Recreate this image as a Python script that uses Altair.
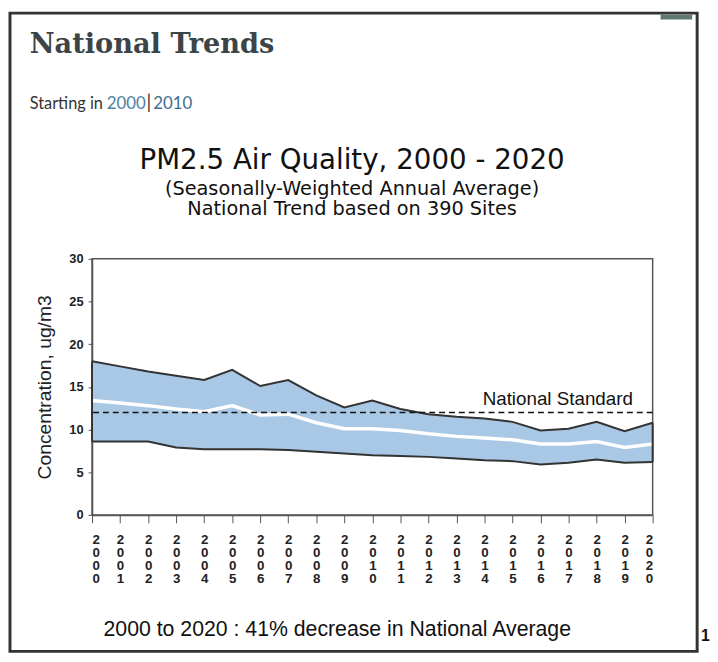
import altair as alt
import pandas as pd

# ---- data ----
years = list(range(2000, 2021))
upper_pct = [18.0, 17.4, 16.8, 16.3, 15.8, 17.0, 15.1, 15.8, 14.0, 12.6, 13.4,
             12.4, 11.8, 11.5, 11.3, 10.9, 9.9, 10.1, 10.9, 9.8, 10.8]
mean_conc = [13.4, 13.1, 12.8, 12.4, 12.1, 12.8, 11.7, 11.8, 10.8, 10.1, 10.1,
             9.9, 9.5, 9.2, 9.0, 8.8, 8.3, 8.3, 8.6, 7.9, 8.3]
lower_pct = [8.6, 8.6, 8.6, 7.9, 7.7, 7.7, 7.7, 7.6, 7.4, 7.2, 7.0,
             6.9, 6.8, 6.6, 6.4, 6.3, 5.9, 6.1, 6.5, 6.1, 6.2]
standard_value = [12]
y_ticks = [0, 5, 10, 15, 20, 25, 30]

header_text = "National Trends"
starting_text = "Starting in"
start_years = ["2000", "2010"]
title_text = "PM2.5 Air Quality, 2000 - 2020"
subtitle_lines = ["(Seasonally-Weighted Annual Average)",
                  "National Trend based on 390 Sites"]
y_title = "Concentration, ug/m3"
standard_label = "National Standard"
footer_text = "2000 to 2020 :  41% decrease in National Average"
page_number = "12"

df = pd.DataFrame({"year": years, "upper": upper_pct,
                   "mean": mean_conc, "lower": lower_pct})
df_std = pd.DataFrame({"std": standard_value, "label": [standard_label]})
edge_df = pd.DataFrame({"year": [years[0], years[-1]],
                        "lo": [lower_pct[0], lower_pct[-1]],
                        "hi": [upper_pct[0], upper_pct[-1]]})

W, H = 567, 259
AX = "Liberation Sans"

xscale = alt.Scale(domain=[2000, 2020], nice=False, zero=False)
yscale = alt.Scale(domain=[0, 30], nice=False)

xaxis = alt.Axis(values=years, labelExpr="split(toString(datum.value), '')",
                 tickSize=8, grid=False, labelFontSize=13.5, labelFontWeight="bold",
                 labelFont=AX, labelLineHeight=13, labelPadding=10,
                 domainColor="#555", tickColor="#555", labelColor="#222",
                 labelAngle=0, domainWidth=1.5, labelOverlap=False)
yaxis = alt.Axis(values=y_ticks, tickSize=4, grid=False, labelFontSize=13,
                 labelFontWeight="bold", labelFont=AX, labelPadding=5,
                 domainColor="#555", tickColor="#555", labelColor="#222",
                 titleFont=AX, titleFontSize=19.5, titleFontWeight="normal",
                 titleColor="#222", titleX=-48, titleY=H / 2, titleAngle=270,
                 titleBaseline="middle", titleAlign="center", domainWidth=1.5)


def X(field="year"):
    return alt.X(f"{field}:Q", scale=xscale, axis=xaxis, title=None)


def Y(field):
    return alt.Y(f"{field}:Q", scale=yscale, axis=yaxis, title=y_title)


base = alt.Chart(df)

band = base.mark_area(color="#a8c8e6", opacity=1).encode(
    x=X(), y=Y("lower"), y2="upper:Q")
upper_line = base.mark_line(color="#333333", strokeWidth=2).encode(
    x=X(), y=Y("upper"))
lower_line = base.mark_line(color="#333333", strokeWidth=2).encode(
    x=X(), y=Y("lower"))
mean_line = base.mark_line(color="white", strokeWidth=3.5).encode(
    x=X(), y=Y("mean"))
edges = alt.Chart(edge_df).mark_rule(color="#333", strokeWidth=2).encode(
    x=X(), y=Y("lo"), y2="hi:Q")
std_line = alt.Chart(df_std).mark_rule(color="#111", strokeWidth=1.5,
                                       strokeDash=[6, 4]).encode(y=Y("std"))
std_text = alt.Chart(df_std).mark_text(align="right", baseline="alphabetic",
                                       dy=-8, fontSize=19, font=AX,
                                       color="#111").encode(
    x=alt.value(547), y=Y("std"), text="label:N")


def txt(t, x, y, size, font, color="#111", weight="normal", align="left"):
    return alt.Chart(pd.DataFrame({"t": [t]})).mark_text(
        align=align, baseline="alphabetic", fontSize=size, font=font,
        fontWeight=weight, color=color).encode(
        x=alt.value(x), y=alt.value(y), text="t:N")


frame = alt.Chart(pd.DataFrame({"a": [0]})).mark_rect(
    fillOpacity=0, stroke="#333", strokeWidth=3).encode(
    x=alt.value(-83), x2=alt.value(612), y=alt.value(-248.5), y2=alt.value(397))
tab = alt.Chart(pd.DataFrame({"a": [0]})).mark_rect(color="#62796f").encode(
    x=alt.value(575), x2=alt.value(607), y=alt.value(-247), y2=alt.value(-242))

texts = [
    txt(header_text, -63, -208, 27.5, "DejaVu Serif", "#3c4447", "bold"),
    txt(starting_text, -63, -152, 16.5, "Lato", "#333"),
    txt(start_years[0], 15, -152, 17, "Lato", "#4f7fa3"),
    txt("|", 55, -152, 19, "Lato", "#333"),
    txt(start_years[1], 62, -152, 17, "Lato", "#3f6f8d"),
    txt(title_text, 263, -91, 28, "DejaVu Sans", "#111", align="center"),
    txt(subtitle_lines[0], 263, -65, 19.5, "DejaVu Sans", "#111", align="center"),
    txt(subtitle_lines[1], 263, -44, 19.5, "DejaVu Sans", "#111", align="center"),
    txt(footer_text, 248, 381, 21.5, AX, "#111", align="center"),
    txt(page_number, 616, 387, 16, AX, "#111", "bold"),
]

chart = alt.layer(
    frame, tab, band, upper_line, lower_line, mean_line, edges,
    std_line, std_text, *texts
).properties(
    width=W, height=H,
    autosize=alt.AutoSizeParams(type="none"),
    padding={"left": 85, "top": 250, "right": 58, "bottom": 139},
).configure_view(stroke="#555", strokeWidth=1.5)

chart.save("out.html", embed_options={"renderer": "svg", "actions": False})
